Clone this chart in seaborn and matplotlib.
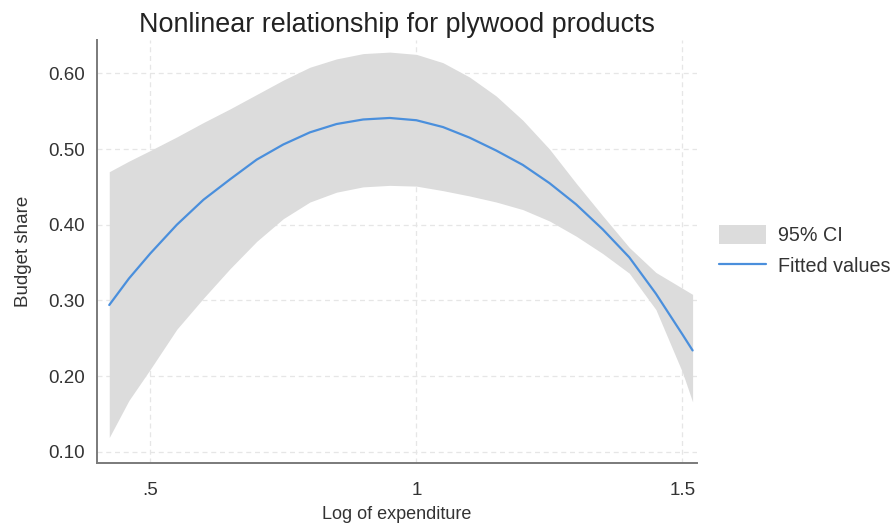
import numpy as np
import pandas as pd
import matplotlib
matplotlib.use("Agg")
import matplotlib.pyplot as plt
import seaborn as sns
from matplotlib.patches import Patch
from matplotlib.lines import Line2D

# Values
log_exp = [0.423, 0.46, 0.50, 0.55, 0.60, 0.65, 0.70, 0.75, 0.80, 0.85, 0.90, 0.95, 1.00,
           1.05, 1.10, 1.15, 1.20, 1.25, 1.30, 1.35, 1.40, 1.45, 1.50, 1.519]
fitted = [0.294, 0.329, 0.362, 0.400, 0.433, 0.460, 0.486, 0.506, 0.522, 0.533, 0.539, 0.541, 0.538,
          0.529, 0.515, 0.498, 0.479, 0.455, 0.427, 0.394, 0.357, 0.309, 0.255, 0.234]
ci_upper = [0.470, 0.484, 0.498, 0.516, 0.535, 0.553, 0.572, 0.591, 0.608, 0.619, 0.626, 0.628, 0.625,
            0.614, 0.595, 0.570, 0.538, 0.500, 0.455, 0.412, 0.370, 0.337, 0.316, 0.308]
ci_lower = [0.119, 0.168, 0.209, 0.262, 0.303, 0.342, 0.378, 0.408, 0.430, 0.443, 0.450, 0.452, 0.451,
            0.445, 0.438, 0.430, 0.420, 0.405, 0.385, 0.362, 0.336, 0.288, 0.205, 0.166]

x_ticks = [0.5, 1.0, 1.5]
x_tick_labels = [".5", "1", "1.5"]
y_ticks = [0.10, 0.20, 0.30, 0.40, 0.50, 0.60]
y_tick_labels = ["0.10", "0.20", "0.30", "0.40", "0.50", "0.60"]

df = pd.DataFrame({"log_exp": log_exp, "fitted": fitted,
                   "lo": ci_lower, "hi": ci_upper})

sns.set_style("white")
plt.rcParams["font.family"] = ["Liberation Sans", "DejaVu Sans"]

band_color = "#dcdcdc"
line_color = "#4a8fdc"
axis_color = "#7a7a7a"
text_color = "#333333"

fig = plt.figure(figsize=(8.9, 5.26), dpi=100)
ax = fig.add_axes([0.109, 0.120, 0.674, 0.804])

ax.fill_between(df["log_exp"], df["lo"], df["hi"], color=band_color, linewidth=0, zorder=2)
sns.lineplot(data=df, x="log_exp", y="fitted", color=line_color, linewidth=1.6, ax=ax, zorder=3)

ax.set_xlim(0.40, 1.527)
ax.set_ylim(0.0855, 0.644)
ax.set_xticks(x_ticks)
ax.set_xticklabels(x_tick_labels)
ax.set_yticks(y_ticks)
ax.set_yticklabels(y_tick_labels)

ax.grid(True, linestyle=(0, (4, 3)), color="#e6e6e6", linewidth=0.9, zorder=0)
ax.set_axisbelow(True)

for side in ["top", "right"]:
    ax.spines[side].set_visible(False)
for side in ["left", "bottom"]:
    ax.spines[side].set_color(axis_color)
    ax.spines[side].set_linewidth(1.4)

ax.tick_params(axis="both", direction="out", length=6, width=1.2, color=axis_color,
               labelsize=13.5, labelcolor=text_color)
ax.tick_params(axis="x", pad=8)
ax.tick_params(axis="y", pad=3)

ax.set_xlabel("Log of expenditure", fontsize=13, color=text_color, labelpad=5)
ax.set_ylabel("Budget share", fontsize=13.5, color=text_color, labelpad=11)
ax.set_title("Nonlinear relationship for plywood products", fontsize=19.4,
             color="#222222", pad=6)

handles = [Patch(facecolor=band_color, edgecolor="none", label="95% CI"),
           Line2D([0], [0], color=line_color, linewidth=1.6, label="Fitted values")]
fig.legend(handles=handles, loc="center left", bbox_to_anchor=(0.788, 0.523),
           frameon=False, fontsize=14.2, labelcolor=text_color,
           handlelength=2.4, handleheight=1.1, handletextpad=0.6, labelspacing=0.55)

fig.savefig("out.png", dpi=100)
